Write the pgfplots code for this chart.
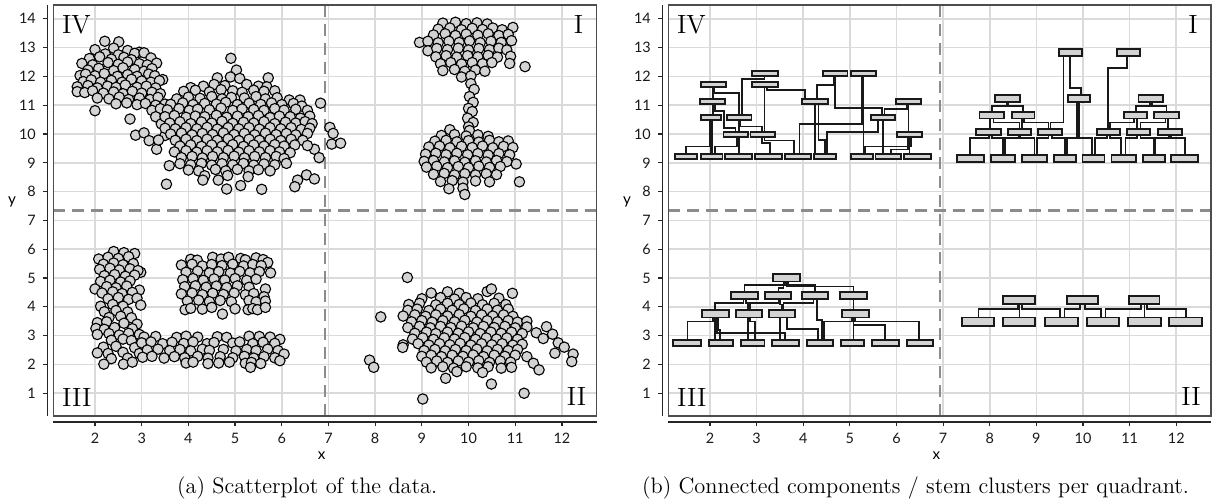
\documentclass[border=0pt]{standalone}
\usepackage{fontspec}
\usepackage{pgfplots}
\pgfplotsset{compat=1.18}
\newfontfamily\lato{Lato}
\definecolor{ptfill}{HTML}{D3D3D3}
\definecolor{gridc}{HTML}{DADADA}
\definecolor{framec}{HTML}{4D4D4D}
\definecolor{dashc}{HTML}{8C8C8C}

\pgfplotsset{
  quad/.style={
    scale only axis, height=205.5pt,
    xmin=1.107, xmax=12.745, ymin=0.21, ymax=14.48,
    xtick={2,...,12}, ytick={1,...,14},
    axis x line*=bottom, axis y line*=left,
    axis x line shift=3pt, axis y line shift=3pt,
    axis line style={-, black!85, line width=0.75pt},
    tick align=outside, major tick length=2.2pt,
    tick style={black!85, line width=0.6pt},
    grid=major, grid style={draw=gridc, line width=0.8pt},
    tick label style={font=\lato\fontsize{7.2}{8}\selectfont, text=black!90},
    /pgf/number format/assume math mode=true,
    clip=false,
  },
  pts/.style={only marks, mark=*, mark size=2.6pt,
    mark options={fill=ptfill, draw=black, line width=0.55pt}},
  conn/.style={black!90, line width=0.85pt},
  rct/.style={draw=black!90, fill=ptfill, line width=0.95pt},
  dsh/.style={dashc, line width=1.3pt, dash pattern=on 6pt off 3.5pt},
}
\newcommand{\crect}[4]{\addplot[rct] coordinates {(#1,#3) (#2,#3) (#2,#4) (#1,#4)} -- cycle;}
\newcommand{\ccn}[5]{\addplot[conn] coordinates {(#1,#2) (#1,#3) (#4,#3) (#4,#5)};}
\newcommand{\cvl}[3]{\addplot[conn] coordinates {(#1,#2) (#1,#3)};}
\newcommand{\quadframe}{%
  \draw[framec, line width=0.7pt] (rel axis cs:0,0) rectangle (rel axis cs:1,1);
  \node[anchor=north west, inner sep=0pt, font=\fontsize{13.2}{14}\selectfont, xshift=4.2pt, yshift=-5pt] at (rel axis cs:0,1) {IV};
  \node[anchor=north east, inner sep=0pt, font=\fontsize{13.2}{14}\selectfont, xshift=-6.5pt, yshift=-5pt] at (rel axis cs:1,1) {I};
  \node[anchor=south west, inner sep=0pt, font=\fontsize{13.2}{14}\selectfont, xshift=4.2pt, yshift=4.65pt] at (rel axis cs:0,0) {III};
  \node[anchor=south east, inner sep=0pt, font=\fontsize{13.2}{14}\selectfont, xshift=-5pt, yshift=4.8pt] at (rel axis cs:1,0) {II};
  \node[font=\lato\fontsize{7.6}{8}\selectfont] at (axis description cs:0.494,-0.097) {x};
  \node[font=\lato\fontsize{7.6}{8}\selectfont] at (axis description cs:-0.076,0.52) {y};
}

\begin{document}
\begin{tikzpicture}
\useasboundingbox (0,0) rectangle (607pt,250.5pt);

% ---------------- (a) scatterplot ----------------
\begin{axis}[quad, width=271.7pt, anchor=south west, at={(26.65pt,42.5pt)}]
  \addplot[dsh] coordinates {(6.93,0.21) (6.93,14.48)};
  \addplot[dsh] coordinates {(1.107,7.34) (12.745,7.34)};

  % quadrant IV, left blob
  \addplot[pts] coordinates {
    (2.21,13.22)(2.51,13.2)
    (2.0,12.93)(2.4,12.98)(2.7,12.9)(2.95,12.84)
    (2.22,12.78)(2.5,12.75)(2.85,12.8)(3.05,12.82)
    (1.88,12.62)(2.1,12.68)(2.35,12.6)(2.62,12.66)(2.78,12.58)(3.2,12.64)
    (1.72,12.45)(1.95,12.4)(2.28,12.48)(2.5,12.42)(2.7,12.5)(2.95,12.44)(3.12,12.4)(3.32,12.46)
    (1.85,12.22)(2.08,12.28)(2.4,12.2)(2.6,12.3)(2.85,12.24)(3.05,12.18)(3.22,12.27)
    (1.68,12.03)(1.8,12.08)(2.0,12.02)(2.2,12.1)(2.48,12.0)(2.7,12.06)(2.9,12.0)(3.15,12.08)(3.28,12.02)(3.45,11.89)
    (1.75,11.82)(1.92,11.88)(2.12,11.8)(2.35,11.86)(2.58,11.8)(2.78,11.9)(3.0,11.84)(3.2,11.8)(3.38,11.85)
    (1.62,11.64)(1.85,11.68)(2.05,11.6)(2.27,11.66)(2.45,11.62)(2.65,11.7)(2.9,11.62)(3.1,11.66)(3.3,11.6)
    (1.62,11.47)(1.78,11.44)(1.95,11.5)(2.18,11.42)(2.4,11.46)(2.6,11.4)(2.8,11.48)(3.0,11.42)(3.22,11.45)(3.4,11.4)
    (2.05,11.25)(2.3,11.22)(2.52,11.28)(2.72,11.2)(2.95,11.25)(3.18,11.2)(3.35,11.27)
    (2.45,11.05)(2.68,11.08)(2.9,11.02)(3.08,11.06)(3.3,11.0)(3.5,11.04)
    (2.0,10.81)(3.22,10.82)(3.4,10.88)(3.6,10.84)
    (3.3,10.6)(3.55,10.62)(3.7,10.56)(2.75,10.52)
    (3.42,10.35)(3.6,10.15)(3.5,9.95)(2.87,9.96)(3.05,10.04)(3.16,9.77)(3.32,9.47)(3.36,9.79)
  };
  % quadrant IV, right blob
  \addplot[pts] coordinates {
    (4.91,12.63)(5.03,12.22)
    (4.62,11.95)(4.9,11.98)(5.1,11.93)(5.71,11.95)
    (4.05,11.61)(4.32,11.66)(4.55,11.72)(4.78,11.68)(5.25,11.72)(5.5,11.66)(5.68,11.64)
    (3.9,11.48)(4.15,11.52)(4.45,11.46)(4.7,11.54)(4.95,11.5)(5.15,11.45)(5.4,11.52)(5.62,11.48)(5.85,11.5)
    (3.75,11.22)(4.0,11.28)(4.25,11.24)(4.5,11.3)(4.72,11.22)(4.92,11.27)(5.2,11.25)(5.45,11.3)(5.65,11.22)(5.9,11.26)(6.16,11.18)(6.39,11.18)
    (3.62,11.03)(3.88,11.08)(4.1,11.02)(4.35,11.06)(4.6,11.04)(4.8,11.1)(5.05,11.02)(5.3,11.07)(5.55,11.03)(5.78,11.08)(6.0,11.02)(6.25,11.06)(6.43,10.97)(6.83,11.07)
    (3.55,10.84)(3.8,10.88)(4.02,10.82)(4.2,10.86)(4.45,10.84)(4.7,10.9)(4.95,10.82)(5.15,10.87)(5.4,10.85)(5.62,10.82)(5.85,10.88)(6.05,10.83)(6.3,10.86)(6.55,10.82)
    (3.5,10.6)(3.7,10.64)(3.95,10.58)(4.15,10.62)(4.35,10.6)(4.6,10.65)(4.82,10.58)(5.05,10.62)(5.28,10.6)(5.5,10.64)(5.75,10.57)(5.95,10.62)(6.18,10.6)(6.4,10.55)(6.6,10.62)
    (3.6,10.38)(3.82,10.42)(4.05,10.36)(4.28,10.42)(4.5,10.38)(4.72,10.44)(4.95,10.37)(5.18,10.41)(5.4,10.38)(5.62,10.43)(5.85,10.36)(6.08,10.41)(6.3,10.38)(6.5,10.43)(6.65,10.36)
    (3.5,10.2)(3.72,10.18)(3.95,10.22)(4.18,10.18)(4.4,10.23)(4.62,10.17)(4.85,10.22)(5.08,10.18)(5.3,10.22)(5.52,10.17)(5.75,10.22)(5.98,10.18)(6.2,10.22)(6.42,10.16)(6.6,10.2)
    (3.62,10.0)(3.85,10.03)(4.08,9.97)(4.3,10.02)(4.52,9.98)(4.75,10.04)(4.98,9.98)(5.2,10.02)(5.42,9.97)(5.65,10.03)(5.88,9.98)(6.1,10.02)(6.3,9.97)(6.55,10.02)
    (3.72,9.78)(3.95,9.82)(4.18,9.77)(4.4,9.82)(4.62,9.78)(4.85,9.83)(5.08,9.77)(5.3,9.82)(5.52,9.78)(5.75,9.82)(5.98,9.77)(6.2,9.82)(6.45,9.78)(6.7,9.47)
    (3.82,9.58)(4.05,9.62)(4.28,9.57)(4.5,9.62)(4.72,9.58)(4.95,9.63)(5.18,9.57)(5.4,9.62)(5.62,9.58)(5.85,9.63)(6.05,9.58)(6.28,9.62)(6.55,9.6)
    (3.7,9.38)(3.95,9.42)(4.18,9.37)(4.4,9.42)(4.62,9.38)(4.85,9.43)(5.08,9.37)(5.3,9.42)(5.52,9.38)(5.75,9.42)(5.95,9.38)(6.18,9.35)
    (3.85,9.18)(4.08,9.22)(4.3,9.17)(4.52,9.22)(4.75,9.18)(4.98,9.23)(5.2,9.17)(5.42,9.22)(5.65,9.18)(5.88,9.22)(6.05,9.15)(6.8,9.18)
    (3.59,8.9)(3.82,8.97)(4.05,8.93)(4.28,8.98)(4.5,8.92)(4.72,8.97)(4.95,8.93)(5.18,8.98)(5.4,8.92)(5.62,8.96)(5.85,8.93)(6.1,8.98)
    (4.0,8.75)(4.22,8.72)(4.58,8.77)(4.8,8.72)(5.05,8.77)(5.3,8.72)(5.5,8.76)(5.75,8.72)
    (4.35,8.55)(4.84,8.56)(5.28,8.52)(6.53,8.58)
    (4.31,8.4)(4.64,8.4)(6.34,8.4)(6.7,8.44)
    (5.12,8.21)(6.28,8.17)(4.82,8.09)(5.57,8.08)(3.53,8.26)
    (7.03,10.23)(7.1,10.02)(7.07,9.65)(7.26,9.68)
  };
  % quadrant I
  \addplot[pts] coordinates {
    (9.45,13.85)(9.72,13.88)(9.95,13.83)(10.18,13.86)(10.4,13.82)
    (9.35,13.64)(9.6,13.68)(9.85,13.62)(10.08,13.67)(10.3,13.63)(10.52,13.68)(10.72,13.62)(10.95,13.7)
    (9.25,13.44)(9.5,13.48)(9.72,13.42)(9.95,13.47)(10.2,13.43)(10.42,13.48)(10.65,13.42)(10.85,13.46)
    (8.95,13.18)(9.13,13.22)(9.35,13.17)(9.58,13.22)(9.8,13.18)(10.02,13.23)(10.25,13.17)(10.48,13.22)(10.7,13.18)(10.92,13.24)
    (9.13,12.89)(9.32,12.97)(9.55,12.93)(9.78,12.98)(10.0,12.92)(10.22,12.97)(10.45,12.93)(10.65,12.98)(10.82,12.92)
    (9.3,12.68)(9.52,12.72)(9.75,12.67)(9.98,12.72)(10.2,12.68)(10.42,12.73)(10.62,12.67)(10.9,12.7)
    (9.4,12.44)(9.62,12.48)(9.85,12.43)(10.08,12.48)(10.3,12.44)(10.5,12.48)(10.88,12.45)
    (9.45,12.2)(9.7,12.24)(9.92,12.18)(10.15,12.22)(10.35,12.18)
    (9.85,11.98)(10.05,12.02)(11.21,12.34)
    (10.05,11.75)(10.12,11.55)(10.02,11.3)(10.1,11.1)(10.0,10.89)(10.08,10.78)(9.98,10.55)(10.1,10.4)(10.0,10.25)
    (9.6,10.15)(10.02,10.12)
    (9.42,9.95)(9.7,9.98)(9.95,9.93)(10.2,9.97)(10.42,9.92)
    (9.28,9.75)(9.52,9.78)(9.75,9.73)(10.0,9.77)(10.22,9.72)(10.45,9.78)(10.65,9.73)(10.85,9.76)
    (9.15,9.55)(9.38,9.58)(9.6,9.52)(9.85,9.57)(10.08,9.53)(10.3,9.58)(10.52,9.52)(10.75,9.57)(10.95,9.53)
    (9.08,9.3)(9.3,9.33)(9.52,9.28)(9.75,9.33)(9.98,9.28)(10.2,9.32)(10.42,9.27)(10.65,9.32)(10.88,9.28)(11.02,8.96)
    (9.05,9.05)(9.25,9.08)(9.48,9.03)(9.7,9.07)(9.92,9.02)(10.15,9.07)(10.38,9.03)(10.6,9.08)(10.82,9.04)
    (9.1,8.85)(9.32,8.88)(9.55,8.83)(9.78,8.87)(10.0,8.83)(10.22,8.88)(10.45,8.84)(10.68,8.87)
    (9.25,8.6)(9.48,8.63)(9.7,8.58)(9.92,8.62)(10.15,8.58)(10.38,8.62)(10.6,8.59)
    (9.4,8.35)(9.65,8.38)(9.88,8.33)(10.15,8.37)(10.45,8.34)(11.09,8.34)
    (9.58,8.1)(9.88,8.12)(9.92,7.9)
  };
  % quadrant III
  \addplot[pts] coordinates {
    (2.4,5.92)(2.62,5.88)(2.85,5.85)
    (2.08,5.66)(2.28,5.72)(2.5,5.68)(2.72,5.74)
    (2.18,5.48)(2.4,5.52)(2.6,5.46)(2.82,5.5)(2.98,5.2)
    (2.1,5.3)(2.32,5.34)(2.52,5.28)(2.75,5.32)(2.92,5.26)
    (2.2,5.08)(2.42,5.12)(2.65,5.06)(2.85,5.1)
    (2.12,4.88)(2.32,4.92)(2.55,4.86)(2.75,4.9)
    (2.0,4.62)(2.25,4.7)(2.45,4.66)(2.68,4.72)(2.95,4.58)
    (2.15,4.48)(2.38,4.52)(2.58,4.46)(2.8,4.5)
    (2.28,4.28)(2.5,4.32)(2.72,4.26)(2.9,4.3)
    (2.12,4.02)(2.38,4.08)(2.6,4.02)(2.98,4.06)
    (2.2,3.83)(2.45,3.87)(2.7,3.82)
    (2.3,3.63)(2.55,3.67)(2.78,3.62)
    (2.05,3.45)(2.25,3.48)(2.62,3.43)(2.9,3.4)
    (2.02,3.25)(2.2,3.22)(2.42,3.28)(2.8,3.24)
    (2.05,3.04)(2.3,3.07)(2.52,3.02)(2.72,3.08)(2.95,3.04)
    (2.35,2.84)(2.6,2.88)(2.78,2.83)
    (2.18,2.6)(2.45,2.63)(2.85,2.58)
    (2.05,2.4)(2.28,2.38)(2.6,2.42)(2.95,2.38)
    (2.35,2.2)(2.7,2.22)(2.19,2.01)(2.61,2.01)(2.8,2.08)
    (3.05,2.95)(3.3,2.97)(3.75,2.94)(3.95,2.98)(4.2,2.95)(4.62,2.96)(4.82,2.94)(5.3,2.98)(5.52,2.97)(5.75,2.95)(5.96,2.87)
    (3.0,2.75)(3.2,2.78)(3.45,2.72)(3.65,2.77)(3.9,2.73)(4.1,2.78)(4.4,2.72)(4.55,2.76)(4.95,2.74)(5.1,2.78)(5.38,2.72)(5.6,2.77)(5.85,2.73)
    (3.12,2.5)(3.35,2.53)(3.6,2.48)(3.82,2.52)(4.05,2.47)(4.3,2.53)(4.45,2.49)(4.75,2.52)(5.02,2.47)(5.25,2.52)(5.45,2.48)(5.7,2.53)(5.92,2.48)
    (3.02,2.25)(3.22,2.28)(3.48,2.22)(3.7,2.27)(3.92,2.23)(4.2,2.28)(4.42,2.22)(4.68,2.27)(4.95,2.23)(5.2,2.28)(5.4,2.22)(5.62,2.27)(5.85,2.23)(6.05,2.36)
    (3.95,2.05)(4.1,2.08)(4.42,2.03)(4.65,2.05)(4.88,2.08)(5.22,2.04)(5.35,2.07)(5.55,2.03)(5.96,2.13)(5.33,1.9)
    (4.05,5.65)(4.19,5.62)(4.52,5.72)(4.7,5.66)(4.86,5.72)(5.12,5.68)(5.22,5.63)(5.45,5.7)(5.6,5.64)(5.7,5.54)
    (3.85,5.45)(4.08,5.48)(4.3,5.42)(4.5,5.47)(4.72,5.43)(4.95,5.48)(5.18,5.42)(5.38,5.47)(5.56,5.43)(5.76,5.18)
    (3.95,5.2)(4.2,5.24)(4.45,5.18)(4.65,5.22)(4.9,5.17)(5.1,5.23)(5.32,5.18)(5.52,5.22)
    (3.88,4.94)(4.1,4.98)(4.32,4.92)(4.55,4.97)(4.78,4.93)(5.0,4.98)(5.25,4.92)(5.45,4.96)
    (3.92,4.7)(4.15,4.73)(4.38,4.68)(4.6,4.72)(4.82,4.67)(5.05,4.73)(5.3,4.68)(5.65,4.62)
    (3.85,4.45)(4.08,4.48)(4.3,4.42)(4.52,4.47)(4.75,4.43)(4.98,4.48)(5.22,4.42)(5.4,4.46)(5.62,4.35)
    (3.98,4.2)(4.22,4.23)(4.45,4.18)(4.68,4.22)(4.92,4.18)(5.3,4.22)(5.45,4.17)(5.65,4.2)
    (3.93,3.9)(4.05,3.95)(4.3,3.92)(4.5,3.98)(5.0,3.93)(5.28,3.9)(5.38,3.94)(5.48,3.9)(5.65,3.98)
    (4.73,3.75)
  };
  % quadrant II
  \addplot[pts] coordinates {
    (9.2,4.48)(9.55,4.52)(9.8,4.47)(10.4,4.53)(10.49,4.62)(10.94,4.47)
    (9.0,4.28)(9.4,4.32)(9.7,4.27)(9.95,4.32)(10.2,4.28)(10.65,4.3)
    (8.72,4.08)(8.95,4.12)(9.3,4.07)(9.55,4.12)(9.8,4.08)(10.05,4.13)(10.3,4.07)(10.55,4.12)(10.8,4.08)
    (8.7,3.88)(8.9,3.92)(9.15,3.87)(9.4,3.92)(9.65,3.88)(9.9,3.93)(10.15,3.87)(10.4,3.92)(10.62,3.88)(10.85,3.92)
    (8.6,3.68)(8.85,3.72)(9.08,3.67)(9.3,3.72)(9.55,3.68)(9.8,3.73)(10.05,3.67)(10.28,3.72)(10.52,3.68)(10.75,3.72)(10.95,3.67)
    (8.78,3.48)(9.0,3.52)(9.22,3.47)(9.45,3.52)(9.7,3.48)(9.92,3.53)(10.18,3.47)(10.4,3.52)(10.62,3.48)(10.85,3.52)(11.05,3.47)(11.25,3.5)
    (8.7,3.28)(8.95,3.32)(9.18,3.27)(9.4,3.32)(9.62,3.28)(9.85,3.33)(10.1,3.27)(10.32,3.32)(10.55,3.28)(10.78,3.32)(11.0,3.27)(11.25,3.3)(11.67,3.31)
    (8.85,3.08)(9.1,3.12)(9.3,3.07)(9.55,3.12)(9.78,3.08)(10.0,3.13)(10.25,3.07)(10.48,3.12)(10.7,3.08)(10.92,3.12)(11.15,3.07)(11.45,3.1)(11.8,3.05)
    (8.8,2.88)(9.02,2.92)(9.25,2.87)(9.48,2.92)(9.7,2.88)(9.92,2.93)(10.15,2.87)(10.38,2.92)(10.6,2.88)(10.82,2.92)(11.05,2.87)(11.6,2.9)
    (8.6,2.68)(8.92,2.72)(9.15,2.67)(9.38,2.72)(9.6,2.68)(9.82,2.73)(10.05,2.67)(10.28,2.72)(10.5,2.68)(10.72,2.72)(10.95,2.67)(11.15,2.7)(11.92,2.75)
    (8.59,2.59)(9.05,2.48)(9.28,2.52)(9.5,2.47)(9.72,2.52)(9.95,2.48)(10.18,2.53)(10.4,2.47)(10.62,2.52)(10.85,2.48)(11.05,2.52)(11.85,2.39)
    (9.0,2.28)(9.2,2.32)(9.42,2.27)(9.65,2.32)(9.88,2.28)(10.1,2.33)(10.32,2.27)(10.55,2.32)(10.78,2.28)(11.0,2.32)(11.25,2.27)
    (9.1,2.08)(9.32,2.12)(9.55,2.07)(9.78,2.12)(10.0,2.08)(10.22,2.13)(10.45,2.07)(10.68,2.12)(10.9,2.08)(11.39,2.04)
    (9.2,1.88)(9.45,1.92)(9.68,1.87)(9.95,1.92)(10.2,1.88)(10.42,1.92)(10.7,1.87)(10.92,1.9)
    (9.51,1.52)(9.75,1.75)(10.3,1.72)(11.51,1.81)
    (8.69,5.02)(8.12,3.65)(7.88,2.15)(7.97,1.9)(9.02,0.8)(10.49,1.32)(11.19,1.0)(12.24,2.36)(12.21,2.1)(12.05,2.6)
  };
  \quadframe
\end{axis}

% ---------------- (b) stem clusters ----------------
\begin{axis}[quad, width=271.35pt, anchor=south west, at={(334.15pt,42.5pt)}]
  \addplot[dsh] coordinates {(6.93,0.21) (6.93,14.48)};
  \addplot[dsh] coordinates {(1.107,7.34) (12.745,7.34)};

  % quadrant IV connectors
  \ccn{1.49}{9.31}{9.57}{2.00}{10.50}
  \cvl{2.02}{9.31}{10.50}
  \cvl{2.05}{9.31}{10.50}
  \cvl{2.07}{10.66}{11.04}
  \cvl{2.07}{11.22}{11.63}
  \ccn{2.09}{11.63}{11.43}{2.63}{10.66}
  \addplot[conn] coordinates {(2.11,11.04)(2.11,10.79)(2.30,10.79)(2.30,10.21)(2.55,10.21)(2.55,10.06)};
  \ccn{2.575}{9.90}{9.57}{2.11}{9.31}
  \cvl{2.63}{10.50}{10.06}
  \cvl{2.63}{9.90}{9.31}
  \ccn{3.17}{12.01}{11.92}{2.68}{10.66}
  \cvl{3.17}{11.63}{10.06}
  \ccn{3.22}{11.63}{11.54}{4.04}{11.22}
  \ccn{2.646}{10.50}{10.26}{3.11}{10.06}
  \ccn{3.12}{9.90}{9.68}{3.29}{9.31}
  \ccn{3.17}{9.90}{9.78}{3.80}{9.31}
  \cvl{4.26}{11.04}{9.31}
  \ccn{4.33}{11.04}{9.80}{4.47}{9.31}
  \ccn{4.68}{12.01}{10.90}{5.69}{10.66}
  \ccn{4.65}{12.01}{11.71}{4.29}{11.22}
  \cvl{5.29}{12.01}{9.31}
  \ccn{5.26}{12.01}{10.36}{3.92}{9.31}
  \cvl{5.71}{10.50}{9.31}
  \ccn{5.74}{10.66}{10.87}{6.22}{11.04}
  \cvl{6.26}{11.04}{10.06}
  \cvl{6.28}{9.90}{9.31}
  \ccn{6.31}{9.90}{9.57}{5.33}{9.31}
  \ccn{5.60}{10.50}{10.08}{4.51}{9.31}
  \ccn{6.24}{9.90}{9.46}{5.88}{9.31}

  % quadrant I connectors
  \ccn{8.37}{11.11}{10.98}{8.05}{10.76}
  \ccn{8.40}{11.11}{10.98}{8.71}{10.76}
  \ccn{11.43}{11.11}{10.98}{11.13}{10.76}
  \ccn{11.48}{11.11}{10.98}{11.79}{10.76}
  \cvl{8.01}{10.54}{10.17}
  \ccn{8.08}{10.54}{10.40}{8.64}{10.17}
  \cvl{8.69}{10.54}{10.17}
  \ccn{8.73}{10.54}{10.40}{9.26}{10.17}
  \ccn{11.09}{10.54}{10.40}{10.58}{10.17}
  \cvl{11.16}{10.54}{10.17}
  \ccn{11.77}{10.54}{10.40}{11.23}{10.17}
  \cvl{11.82}{10.54}{10.17}
  \ccn{9.58}{12.72}{10.40}{9.30}{10.17}
  \ccn{10.95}{12.72}{12.30}{10.53}{10.17}
  \ccn{9.95}{11.34}{11.60}{9.72}{12.72}
  \ccn{9.87}{11.11}{9.86}{9.66}{9.28}
  \ccn{9.92}{11.11}{9.86}{10.19}{9.28}
  \ccn{7.98}{9.97}{9.86}{7.58}{9.28}
  \ccn{8.05}{9.97}{9.86}{8.28}{9.28}
  \ccn{8.62}{9.97}{9.86}{8.33}{9.28}
  \ccn{8.66}{9.97}{9.86}{8.96}{9.28}
  \ccn{9.26}{9.97}{9.86}{9.01}{9.28}
  \ccn{9.33}{9.97}{9.86}{9.61}{9.28}
  \ccn{10.51}{9.97}{9.86}{10.26}{9.28}
  \ccn{10.58}{9.97}{9.86}{10.81}{9.28}
  \ccn{11.16}{9.97}{9.86}{10.91}{9.28}
  \ccn{11.23}{9.97}{9.86}{11.52}{9.28}
  \ccn{11.84}{9.97}{9.86}{11.55}{9.28}
  \ccn{11.88}{9.97}{9.86}{12.18}{9.28}

  % quadrant III connectors
  \ccn{3.61}{4.88}{4.77}{2.74}{4.50}
  \ccn{3.65}{4.88}{4.71}{5.08}{4.50}
  \ccn{3.58}{4.88}{4.65}{3.47}{4.50}
  \ccn{3.68}{4.88}{4.77}{4.25}{4.50}
  \ccn{2.72}{4.27}{4.13}{2.11}{3.88}
  \ccn{2.77}{4.27}{4.13}{2.82}{3.88}
  \ccn{3.47}{4.27}{4.13}{2.86}{3.88}
  \ccn{3.50}{4.27}{4.08}{3.545}{3.88}
  \ccn{4.22}{4.27}{4.13}{3.58}{3.88}
  \cvl{5.08}{4.27}{3.88}
  \ccn{2.07}{3.63}{3.49}{1.52}{2.85}
  \cvl{2.11}{3.63}{2.85}
  \ccn{2.15}{3.63}{3.09}{3.61}{2.85}
  \ccn{2.18}{3.63}{3.20}{2.22}{2.85}
  \cvl{2.82}{3.63}{2.85}
  \ccn{2.86}{3.63}{3.49}{2.97}{2.85}
  \cvl{3.50}{3.63}{2.85}
  \ccn{3.65}{3.63}{3.24}{4.32}{2.85}
  \ccn{4.29}{4.27}{3.55}{4.40}{2.85}
  \cvl{5.08}{3.63}{2.85}
  \ccn{5.11}{3.63}{3.49}{6.49}{2.85}
  \ccn{5.08}{3.63}{3.38}{5.76}{2.85}
  \ccn{5.04}{3.63}{3.49}{4.44}{2.85}

  % quadrant II connectors
  \ccn{8.60}{4.10}{3.92}{7.76}{3.63}
  \cvl{8.64}{4.10}{3.63}
  \ccn{8.69}{4.10}{3.92}{9.51}{3.63}
  \ccn{9.94}{4.10}{3.92}{9.60}{3.63}
  \ccn{10.05}{4.10}{3.92}{10.39}{3.63}
  \ccn{11.25}{4.10}{3.92}{10.48}{3.63}
  \cvl{11.32}{4.10}{3.63}
  \ccn{11.37}{4.10}{3.92}{12.21}{3.63}

  % quadrant IV stems
  \crect{1.25}{1.73}{9.13}{9.31} \crect{1.80}{2.27}{9.13}{9.31} \crect{2.33}{2.91}{9.13}{9.31}
  \crect{2.97}{3.54}{9.13}{9.31} \crect{3.60}{4.17}{9.13}{9.31} \crect{4.23}{4.71}{9.13}{9.31}
  \crect{5.02}{5.49}{9.13}{9.31} \crect{5.55}{6.10}{9.13}{9.31} \crect{6.16}{6.74}{9.13}{9.31}
  \crect{2.29}{2.81}{9.90}{10.06} \crect{2.87}{3.40}{9.90}{10.06} \crect{6.01}{6.55}{9.90}{10.06}
  \crect{1.81}{2.23}{10.50}{10.66} \crect{2.36}{2.89}{10.50}{10.66} \crect{5.46}{5.96}{10.50}{10.66}
  \crect{1.78}{2.32}{11.04}{11.22} \crect{3.98}{4.53}{11.04}{11.22} \crect{5.99}{6.52}{11.04}{11.22}
  \crect{1.81}{2.35}{11.63}{11.82} \crect{2.91}{3.45}{11.63}{11.82}
  \crect{2.91}{3.45}{12.01}{12.20} \crect{4.42}{4.95}{12.01}{12.20} \crect{5.02}{5.56}{12.01}{12.20}

  % quadrant I stems
  \crect{7.30}{7.87}{9.03}{9.28} \crect{8.02}{8.55}{9.03}{9.28} \crect{8.70}{9.23}{9.03}{9.28}
  \crect{9.38}{9.85}{9.03}{9.28} \crect{9.99}{10.46}{9.03}{9.28} \crect{10.61}{11.14}{9.03}{9.28}
  \crect{11.29}{11.76}{9.03}{9.28} \crect{11.89}{12.47}{9.03}{9.28}
  \crect{7.71}{8.24}{9.97}{10.17} \crect{8.40}{8.89}{9.97}{10.17} \crect{9.04}{9.54}{9.97}{10.17}
  \crect{10.30}{10.79}{9.97}{10.17} \crect{10.94}{11.44}{9.97}{10.17} \crect{11.60}{12.13}{9.97}{10.17}
  \crect{7.78}{8.31}{10.54}{10.76} \crect{8.47}{8.96}{10.54}{10.76}
  \crect{10.87}{11.37}{10.54}{10.76} \crect{11.52}{12.05}{10.54}{10.76}
  \crect{8.11}{8.64}{11.11}{11.34} \crect{9.68}{10.15}{11.11}{11.34} \crect{11.19}{11.72}{11.11}{11.34}
  \crect{9.48}{9.98}{12.72}{12.95} \crect{10.72}{11.22}{12.72}{12.95}

  % quadrant III stems
  \crect{1.21}{1.80}{2.63}{2.85} \crect{1.97}{2.50}{2.63}{2.85} \crect{2.66}{3.17}{2.63}{2.85}
  \crect{3.33}{3.91}{2.63}{2.85} \crect{4.08}{4.64}{2.63}{2.85} \crect{4.81}{5.31}{2.63}{2.85}
  \crect{5.48}{6.05}{2.63}{2.85} \crect{6.22}{6.79}{2.63}{2.85}
  \crect{1.82}{2.40}{3.63}{3.88} \crect{2.56}{3.11}{3.63}{3.88} \crect{3.27}{3.82}{3.63}{3.88}
  \crect{4.83}{5.41}{3.63}{3.88}
  \crect{2.45}{3.03}{4.27}{4.50} \crect{3.19}{3.73}{4.27}{4.50} \crect{3.97}{4.54}{4.27}{4.50}
  \crect{4.79}{5.36}{4.27}{4.50}
  \crect{3.35}{3.93}{4.88}{5.14}

  % quadrant II stems
  \crect{7.40}{8.10}{3.33}{3.63} \crect{8.28}{8.98}{3.33}{3.63} \crect{9.19}{9.89}{3.33}{3.63}
  \crect{10.08}{10.77}{3.33}{3.63} \crect{10.97}{11.67}{3.33}{3.63} \crect{11.85}{12.55}{3.33}{3.63}
  \crect{8.29}{8.98}{4.10}{4.39} \crect{9.66}{10.32}{4.10}{4.39} \crect{10.98}{11.64}{4.10}{4.39}

  \quadframe
\end{axis}

\node[anchor=base west, font=\fontsize{11.2}{13}\selectfont] at (85pt,3.5pt) {(a) Scatterplot of the data.};
\node[anchor=base west, font=\fontsize{11.2}{13}\selectfont] at (317.5pt,3.5pt) {(b) Connected components / stem clusters per quadrant.};
\end{tikzpicture}
\end{document}
